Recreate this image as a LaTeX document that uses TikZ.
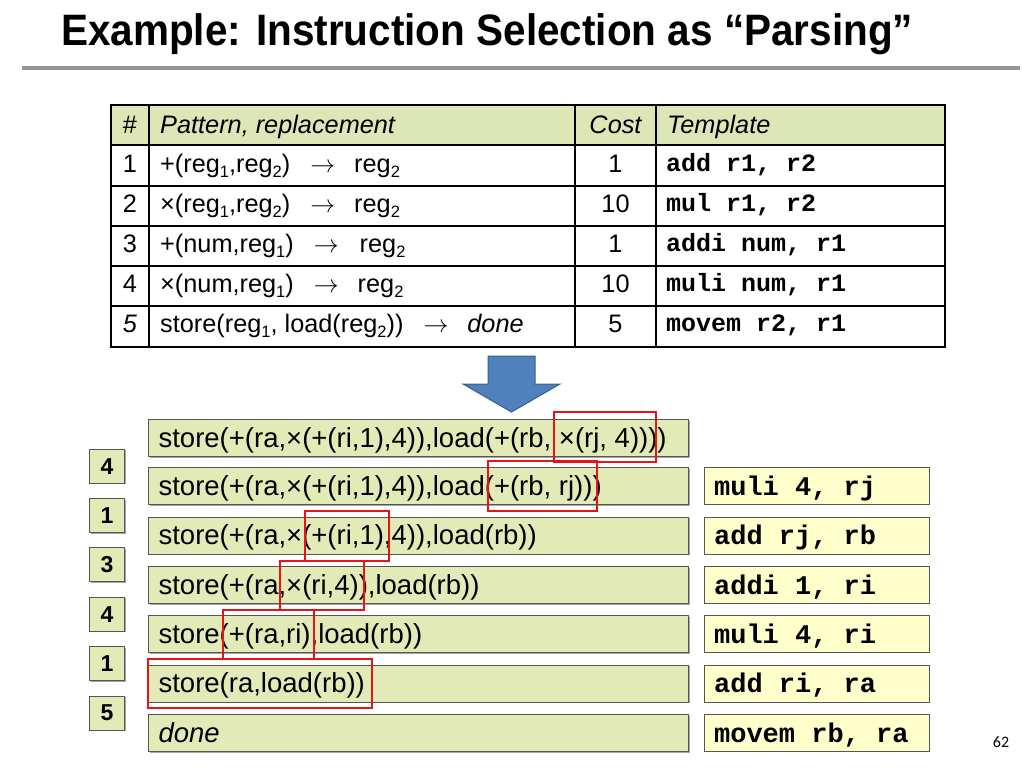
\documentclass[tikz,border=0pt]{standalone}
\usepackage{fontspec}
\setmainfont{Liberation Sans}
\setmonofont{Liberation Mono}
\newfontfamily\titlefont{Liberation Sans}[FakeStretch=0.92]
\newfontfamily\pagefont{Carlito}
\usetikzlibrary{shadows}
\definecolor{hdrgreen}{RGB}{221,230,182}
\definecolor{exprgreen}{RGB}{226,234,184}
\definecolor{tmplyellow}{RGB}{255,255,204}
\definecolor{boxedge}{RGB}{85,85,85}
\definecolor{arrowblue}{RGB}{79,129,189}
\definecolor{arrowedge}{RGB}{56,93,138}
\definecolor{hlred}{RGB}{232,20,20}
\definecolor{rulegray}{RGB}{150,150,150}
\newcommand\sbs[1]{\raisebox{-0.22em}{\fontsize{16.5}{17}\selectfont #1}}
\newcommand\arr{\hspace{20pt}$\rightarrow$\hspace{19pt}}
\newcommand\ebox[1]{\makebox[520pt][l]{#1}}
\newcommand\tbox[1]{\makebox[206pt][l]{#1}}
\tikzset{
  exprbox/.style={draw=boxedge, line width=1.2pt, fill=exprgreen, anchor=north west,
    minimum height=37pt, inner xsep=10pt, inner ysep=0pt,
    text height=22pt, text depth=4pt,
    font=\fontsize{27.5}{30}\selectfont,
    drop shadow={shadow xshift=1.2pt, shadow yshift=-1.2pt, fill=black, opacity=0.35}},
  numbox/.style={draw=boxedge, line width=1.2pt, fill=exprgreen, anchor=north west,
    minimum width=35pt, minimum height=34pt, inner sep=0pt,
    font=\bfseries\fontsize{23}{25}\selectfont,
    drop shadow={shadow xshift=1.2pt, shadow yshift=-1.2pt, fill=black, opacity=0.35}},
  tmplbox/.style={draw=boxedge, line width=1.2pt, fill=tmplyellow, anchor=north west,
    minimum height=37pt, inner xsep=9.5pt, inner ysep=0pt,
    text height=22pt, text depth=4pt,
    font=\ttfamily\bfseries\fontsize{27}{30}\selectfont},
  cell/.style={anchor=base west, inner sep=0pt, font=\fontsize{25.3}{28}\selectfont},
  ccell/.style={anchor=base, inner sep=0pt, font=\fontsize{25.3}{28}\selectfont},
  tcell/.style={anchor=base west, inner sep=0pt, font=\ttfamily\bfseries\fontsize{25}{28}\selectfont},
  redbox/.style={draw=hlred, line width=2.6pt},
  tablerule/.style={line width=1.3pt, black}
}
\begin{document}
\begin{tikzpicture}[x=1pt,y=-1pt]
\useasboundingbox (0,0) rectangle (1032,774);
% title
\node[anchor=base west, inner sep=0pt, font=\titlefont\bfseries\fontsize{44}{48}\selectfont] (title) at (61,45) {Example: Instruction Selection as “Parsing”};
\draw[line width=4pt, rulegray] (22,68) -- (1020,68);
% table
\fill[hdrgreen] (111,105) rectangle (945,145);
\foreach \yy in {145,186,226,266,306} \draw[tablerule] (111,\yy) -- (945,\yy);
\foreach \xx in {149,575,656} \draw[tablerule] (\xx,105) -- (\xx,347);
\draw[line width=2.8pt, black] (111,105) rectangle (945,347);
% header
\node[ccell] (h1) at (130,133) {\#};
\node[cell] (h2) at (160,133) {\itshape Pattern, replacement};
\node[ccell] (h3) at (615.5,133) {\itshape Cost};
\node[cell] (h4) at (667,133) {\itshape Template};
% rows
\node[ccell] (n1) at (130,172) {1};
\node[cell] (p1) at (160,172) {+(reg\sbs{1},reg\sbs{2})\arr reg\sbs{2}};
\node[ccell] (c1) at (615.5,172) {1};
\node[tcell] (t1) at (666,171) {add r1, r2};
\node[ccell] (n2) at (130,212) {2};
\node[cell] (p2) at (160,212) {×(reg\sbs{1},reg\sbs{2})\arr reg\sbs{2}};
\node[ccell] (c2) at (615.5,212) {10};
\node[tcell] (t2) at (666,211) {mul r1, r2};
\node[ccell] (n3) at (130,252) {3};
\node[cell] (p3) at (160,252) {+(num,reg\sbs{1})\arr\hspace{2pt}reg\sbs{2}};
\node[ccell] (c3) at (615.5,252) {1};
\node[tcell] (t3) at (666,251) {addi num, r1};
\node[ccell] (n4) at (130,292) {4};
\node[cell] (p4) at (160,292) {×(num,reg\sbs{1})\arr reg\sbs{2}};
\node[ccell] (c4) at (615.5,292) {10};
\node[tcell] (t4) at (666,291) {muli num, r1};
\node[ccell] (n5) at (130,332) {\itshape 5};
\node[cell] (p5) at (160,332) {store(reg\sbs{1}, load(reg\sbs{2}))\arr\itshape done};
\node[ccell] (c5) at (615.5,332) {5};
\node[tcell] (t5) at (666,331) {movem r2, r1};
% big arrow
\draw[fill=arrowblue, draw=arrowedge, line width=1pt, line join=miter]
  (488,356) -- (535,356) -- (535,384) -- (560,384) -- (511.5,412) -- (463,384) -- (488,384) -- cycle;
% expression boxes
\node[exprbox] (e1) at (148,419) {\ebox{store(+(ra,×(+(ri,1),4)),load(+(rb, ×(rj, 4))))}};
\node[exprbox] (e2) at (148,467) {\ebox{store(+(ra,×(+(ri,1),4)),load(+(rb, rj)))}};
\node[exprbox] (e3) at (148,516.5) {\ebox{store(+(ra,×(+(ri,1),4)),load(rb))}};
\node[exprbox] (e4) at (148,566) {\ebox{store(+(ra,×(ri,4)),load(rb))}};
\node[exprbox] (e5) at (148,615) {\ebox{store(+(ra,ri),load(rb))}};
\node[exprbox] (e6) at (148,664.5) {\ebox{store(ra,load(rb))}};
\node[exprbox] (e7) at (148,714) {\ebox{\itshape done}};
% rule numbers
\node[numbox] (r1) at (89,448.5) {4};
\node[numbox] (r2) at (89,498) {1};
\node[numbox] (r3) at (89,547) {3};
\node[numbox] (r4) at (89,596.5) {4};
\node[numbox] (r5) at (89,646) {1};
\node[numbox] (r6) at (89,695.5) {5};
% templates
\node[tmplbox] (m1) at (704,467) {\tbox{muli 4, rj}};
\node[tmplbox] (m2) at (704,516.5) {\tbox{add rj, rb}};
\node[tmplbox] (m3) at (704,566) {\tbox{addi 1, ri}};
\node[tmplbox] (m4) at (704,615) {\tbox{muli 4, ri}};
\node[tmplbox] (m5) at (704,664.5) {\tbox{add ri, ra}};
\node[tmplbox] (m6) at (704,714) {\tbox{movem rb, ra}};
% red highlights
\draw[redbox] (554,412) rectangle (656,462);
\draw[redbox] (488,461) rectangle (597,511);
\draw[redbox] (305,511) rectangle (389,561);
\draw[redbox] (280,561) rectangle (364,610);
\draw[redbox] (223,610) rectangle (314,659);
\draw[redbox] (148,659) rectangle (372,708);
% page number
\node[anchor=center, inner sep=0pt, font=\pagefont\fontsize{16}{18}\selectfont] (pg) at (1001,742) {62};
\end{tikzpicture}
\end{document}
